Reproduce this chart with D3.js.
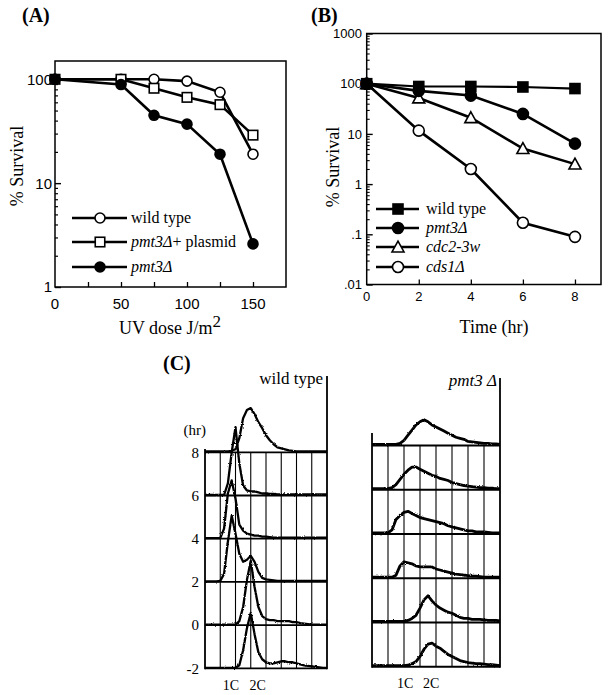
<!DOCTYPE html>
<html>
<head>
<meta charset="utf-8">
<script src="https://cdn.jsdelivr.net/npm/d3@7"></script>
<style>
  body { margin: 0; background: #fff; }
  svg { display: block; }
  .serif { font-family: "Liberation Serif", "DejaVu Serif", serif; }
  .sans { font-family: "Liberation Sans", Arial, sans-serif; }
</style>
</head>
<body>
<div id="fig"></div>
<script>
// ---------- data, panel A (UV dose survival)
var doseA = [0, 50, 75, 100, 125, 150];
var wtA = [100, 100, 100, 96, 75, 19];
var plasmidA = [100, 100, 82, 67, 57, 29];
var pmt3A = [100, 89, 45, 37, 19, 2.6];
var doseTicksA = [0, 50, 100, 150];
var survTicksA = [1, 10, 100];

// ---------- data, panel B (survival over time)
var timeB = [0, 2, 4, 6, 8];
var wtB = [100, 88, 88, 86, 80];
var pmt3B = [100, 72, 58, 25, 6.4];
var cdc2B = [100, 52, 21, 5.1, 2.5];
var cds1B = [100, 11.6, 2.0, 0.17, 0.089];
var survTicksB = [0.01, 0.1, 1, 10, 100, 1000];
var survLabelsB = [".01", ".1", "1", "10", "100", "1000"];

// ---------- data, panel C (FACS profiles, counts per channel bin, 0..8 in steps of .25)
var flowTimes = ["8", "6", "4", "2", "0", "-2"];
var wtFlow = {
  "8":  [1,1,1,1,1,1,1,1.5,3,14,34,42,44,38,30,24,17,12,8,5,4,3,2,1.5,1,1,1,1,1,1,1,1,1],
  "6":  [0.5,0.5,0.5,0.5,0.5,0.5,12,43,68,32,10,5,4,4,3,2,2,1.5,1.5,1,1,1,1,1,1,1,1,1,1,1,1,1,1],
  "4":  [0.5,0.5,0.5,0.5,0.5,10,45,58,40,14,8,5,4,3,3,2,2,1.5,1,1,1,1,1,1,1,1,1,1,1,1,1,1,1],
  "2":  [0.5,0.5,0.5,0.5,1,8,40,66,48,28,20,22,26,20,10,4,2.5,2,1.5,1,1,1,1,1,1,1,1,1,1,1,1,1,1],
  "0":  [0.5,0.5,0.5,0.5,0.5,0.5,0.5,0.5,0.5,4,18,45,64,38,18,9,6,5,5,4,4,4,4,3,3,2,1.5,1,0.5,0.5,0.5,0.5,0.5],
  "-2": [0.5,0.5,0.5,0.5,0.5,0.5,0.5,0.5,0.5,3,18,40,55,34,16,9,6,5,5,6,7,7,6,6,5,4,3,2.5,2,1.5,1,0.5,0.5]
};
var pmtFlow = {
  "8":  [1,1,1,1,1,1,1,2,5,10,15,20,23,25,23,20,18,16,14,12,10,8,7,6,4,3.5,3,2.5,2,2,1.5,1.5,1],
  "6":  [1,1,1,1,1,2,5,10,15,19,22,22,20,18,16,14,13,11,10,9,7,6,5,4,3.5,3,2.5,2,2,1.5,1.5,1,1],
  "4":  [1,1,1,1,1,4,14,18,21,22,20,18,16,15,14,13,12,11,10,8,7,6,5,4,3,3,2,2,2,1.5,1,1,1],
  "2":  [1,1,1,1,1,1,3,12,16,15,14,12,11,11,11,11,9,8,7,6,5,4,3.5,3,2.5,2,2,1.5,1,1,1,1,1],
  "0":  [1,1,1,1,1,1,1,1,1,2,4,7,14,22,26,21,17,14,12,10,9,7,5,4,4,3,3,3,2.5,2,2,2,1.5],
  "-2": [1,1,1,1,1,1,1,1,1,1.5,3,5,10,17,22,23,20,18,15,12,10,8,6,5,4,3.5,3,3,2.5,2,2,1.5,1]
};
var channels = d3.range(0, 8.001, 0.25);

var svg = d3.select("#fig").append("svg")
    .attr("width", 609)
    .attr("height", 695);
svg.append("rect").attr("width", 609).attr("height", 695).attr("fill", "#fff");

// rough look for the scanned flow traces
var filt = svg.append("defs").append("filter")
  .attr("id", "rough").attr("x", "-5%").attr("y", "-20%").attr("width", "110%").attr("height", "140%");
filt.append("feTurbulence").attr("type", "fractalNoise")
  .attr("baseFrequency", "0.9").attr("numOctaves", 1).attr("seed", 3).attr("result", "n");
filt.append("feDisplacementMap").attr("in", "SourceGraphic").attr("in2", "n")
  .attr("scale", 2.5).attr("xChannelSelector", "R").attr("yChannelSelector", "G");

// markers
function drawMarker(g, type, x, y, s) {
  if (type == "circle" || type == "dot") {
    g.append("circle").attr("cx", x).attr("cy", y).attr("r", s / 2)
      .attr("fill", type == "dot" ? "#000" : "#fff")
      .attr("stroke", "#000").attr("stroke-width", 1.6);
  } else if (type == "square" || type == "fsquare") {
    g.append("rect").attr("x", x - s / 2).attr("y", y - s / 2)
      .attr("width", s).attr("height", s)
      .attr("fill", type == "fsquare" ? "#000" : "#fff")
      .attr("stroke", "#000").attr("stroke-width", 1.6);
  } else if (type == "triangle") {
    var h = s * 0.9;
    g.append("path")
      .attr("d", "M" + x + "," + (y - h / 2 - 1) + "L" + (x + s / 2 + 0.5) + "," + (y + h / 2) + "L" + (x - s / 2 - 0.5) + "," + (y + h / 2) + "Z")
      .attr("fill", "#fff").attr("stroke", "#000").attr("stroke-width", 1.6);
  }
}

// ================= Panel A =================
var xA = d3.scaleLinear().domain([0, 175]).range([55, 286]);
var yA = d3.scaleLog().domain([1, 150]).range([287, 61]);

var gA = svg.append("g");
gA.append("rect")
  .attr("x", 55).attr("y", 61)
  .attr("width", 286 - 55).attr("height", 287 - 61)
  .attr("fill", "none").attr("stroke", "#000").attr("stroke-width", 1.5);

// left axis ticks (inside)
gA.append("g")
  .attr("transform", "translate(55,0)")
  .call(d3.axisRight(yA).tickValues(yA.ticks().filter(function(d) { return survTicksA.indexOf(d) < 0; }))
    .tickSize(3).tickFormat(""))
  .call(function(g) { g.select(".domain").remove(); g.selectAll("line").attr("stroke-width", 1.2); });
gA.append("g")
  .attr("transform", "translate(55,0)")
  .call(d3.axisRight(yA).tickValues(survTicksA).tickSize(6).tickFormat(""))
  .call(function(g) { g.select(".domain").remove(); g.selectAll("line").attr("stroke-width", 1.4); });
gA.selectAll(".ylabA")
  .data(survTicksA)
  .enter().append("text")
    .attr("class", "sans")
    .attr("x", 52).attr("y", function(d) { return yA(d); })
    .attr("dy", "0.36em")
    .attr("text-anchor", "end")
    .attr("font-size", 15)
    .text(function(d) { return d; });

// bottom axis ticks (inside)
gA.append("g")
  .attr("transform", "translate(0,287)")
  .call(d3.axisTop(xA).tickValues([25, 50, 75, 100, 125, 150]).tickSize(5).tickFormat(""))
  .call(function(g) { g.select(".domain").remove(); g.selectAll("line").attr("stroke-width", 1.3); });
gA.selectAll(".xlabA")
  .data(doseTicksA)
  .enter().append("text")
    .attr("class", "sans")
    .attr("x", function(d) { return xA(d); }).attr("y", 309)
    .attr("text-anchor", "middle")
    .attr("font-size", 15)
    .text(function(d) { return d; });

var lineA = d3.line()
  .x(function(d, i) { return xA(doseA[i]); })
  .y(function(d) { return yA(d); });

var seriesA = [
  {vals: wtA, m: "circle"},
  {vals: plasmidA, m: "square"},
  {vals: pmt3A, m: "dot"}
];
seriesA.forEach(function(s) {
  gA.append("path").attr("d", lineA(s.vals))
    .attr("fill", "none").attr("stroke", "#000").attr("stroke-width", 2.6);
});
seriesA.forEach(function(s) {
  s.vals.forEach(function(v, i) {
    drawMarker(gA, s.m, xA(doseA[i]), yA(v), s.m == "square" ? 9.5 : 10);
  });
});

// legend A
var legA = [
  {m: "circle", it: "", rest: "wild type", y: 218},
  {m: "square", it: "pmt3\u0394", rest: "+ plasmid", y: 242},
  {m: "dot", it: "pmt3\u0394", rest: "", y: 267}
];
legA.forEach(function(l) {
  gA.append("line").attr("x1", 72).attr("x2", 127).attr("y1", l.y).attr("y2", l.y)
    .attr("stroke", "#000").attr("stroke-width", 2.6);
  drawMarker(gA, l.m, 100, l.y, l.m == "square" ? 9.5 : 10);
  var t = gA.append("text").attr("class", "serif").attr("x", 131).attr("y", l.y + 5)
    .attr("font-size", 16);
  if (l.it) t.append("tspan").attr("font-style", "italic").text(l.it);
  if (l.rest) t.append("tspan").text(l.rest);
});

gA.append("text").attr("class", "serif")
  .attr("x", 170).attr("y", 334)
  .attr("text-anchor", "middle").attr("font-size", 18)
  .text("UV dose J/m")
  .append("tspan").attr("font-size", 17).attr("dy", -7).text("2");

gA.append("text").attr("class", "serif")
  .attr("transform", "translate(23,166) rotate(-90)")
  .attr("text-anchor", "middle").attr("font-size", 18)
  .text("% Survival");

svg.append("text").attr("class", "serif")
  .attr("x", 22).attr("y", 22)
  .attr("font-size", 20).attr("font-weight", "bold")
  .text("(A)");

// ================= Panel B =================
var xB = d3.scaleLinear().domain([0, 9]).range([366.7, 601]);
var yB = d3.scaleLog().domain([0.01, 1000]).range([284.5, 33.5]);

var gB = svg.append("g");
gB.append("rect")
  .attr("x", 366.7).attr("y", 33.5)
  .attr("width", 601 - 366.7).attr("height", 284.5 - 33.5)
  .attr("fill", "none").attr("stroke", "#000").attr("stroke-width", 1.5);

gB.append("g")
  .attr("transform", "translate(366.7,0)")
  .call(d3.axisRight(yB).tickValues(yB.ticks().filter(function(d) {
      return survTicksB.indexOf(d) < 0; }))
    .tickSize(3).tickFormat(""))
  .call(function(g) { g.select(".domain").remove(); g.selectAll("line").attr("stroke-width", 1.1); });
gB.append("g")
  .attr("transform", "translate(366.7,0)")
  .call(d3.axisRight(yB).tickValues(survTicksB).tickSize(6).tickFormat(""))
  .call(function(g) { g.select(".domain").remove(); g.selectAll("line").attr("stroke-width", 1.4); });
gB.selectAll(".ylabB")
  .data(survTicksB)
  .enter().append("text")
    .attr("class", "sans")
    .attr("x", 362).attr("y", function(d) { return yB(d); })
    .attr("dy", "0.36em")
    .attr("text-anchor", "end")
    .attr("font-size", 13)
    .text(function(d, i) { return survLabelsB[i]; });

gB.append("g")
  .attr("transform", "translate(0,284.5)")
  .call(d3.axisTop(xB).tickValues([2, 4, 6, 8]).tickSize(5).tickFormat(""))
  .call(function(g) { g.select(".domain").remove(); g.selectAll("line").attr("stroke-width", 1.3); });
gB.selectAll(".xlabB")
  .data(timeB)
  .enter().append("text")
    .attr("class", "sans")
    .attr("x", function(d) { return xB(d); }).attr("y", 301)
    .attr("text-anchor", "middle")
    .attr("font-size", 13)
    .text(function(d) { return d; });

var lineB = d3.line()
  .x(function(d, i) { return xB(timeB[i]); })
  .y(function(d) { return yB(d); });

var seriesB = [
  {vals: cds1B, m: "circle", w: 2.6},
  {vals: cdc2B, m: "triangle", w: 2.6},
  {vals: pmt3B, m: "dot", w: 2.6},
  {vals: wtB, m: "fsquare", w: 2.2}
];
seriesB.forEach(function(s) {
  gB.append("path").attr("d", lineB(s.vals))
    .attr("fill", "none").attr("stroke", "#000").attr("stroke-width", s.w);
});
seriesB.forEach(function(s) {
  s.vals.forEach(function(v, i) {
    drawMarker(gB, s.m, xB(timeB[i]), yB(v), s.m == "fsquare" ? 10 : 11);
  });
});

var legB = [
  {m: "fsquare", it: false, label: "wild type", y: 209},
  {m: "dot", it: true, label: "pmt3\u0394", y: 228},
  {m: "triangle", it: true, label: "cdc2-3w", y: 247},
  {m: "circle", it: true, label: "cds1\u0394", y: 267}
];
legB.forEach(function(l) {
  gB.append("line").attr("x1", 376).attr("x2", 419).attr("y1", l.y).attr("y2", l.y)
    .attr("stroke", "#000").attr("stroke-width", 2.6);
  drawMarker(gB, l.m, 398, l.y, l.m == "fsquare" ? 10 : 11);
  gB.append("text").attr("class", "serif").attr("x", 426).attr("y", l.y + 5)
    .attr("font-size", 16)
    .attr("font-style", l.it ? "italic" : "normal")
    .text(l.label);
});

gB.append("text").attr("class", "serif")
  .attr("x", 494).attr("y", 333)
  .attr("text-anchor", "middle").attr("font-size", 18)
  .text("Time (hr)");

gB.append("text").attr("class", "serif")
  .attr("transform", "translate(339,167) rotate(-90)")
  .attr("text-anchor", "middle").attr("font-size", 18)
  .text("% Survival");

svg.append("text").attr("class", "serif")
  .attr("x", 311).attr("y", 22)
  .attr("font-size", 20).attr("font-weight", "bold")
  .text("(B)");

// ================= Panel C =================
svg.append("text").attr("class", "serif")
  .attr("x", 163).attr("y", 370)
  .attr("font-size", 20).attr("font-weight", "bold")
  .text("(C)");

function flowPanel(cfg) {
  var g = svg.append("g");
  var x = d3.scaleLinear().domain([0, 8]).range([cfg.x0, cfg.x1]);
  var row = d3.scalePoint().domain(flowTimes).range([cfg.top, cfg.bottom]);
  var h = d3.scaleLinear().domain([0, 43]).range([0, cfg.rowH]);

  // horizontal row lines
  g.selectAll(".hl").data(flowTimes).enter().append("line")
    .attr("x1", cfg.x0).attr("x2", cfg.x1)
    .attr("y1", function(d) { return row(d); }).attr("y2", function(d) { return row(d); })
    .attr("stroke", "#000").attr("stroke-width", 1.8);
  // vertical grid
  g.selectAll(".vl").data(d3.range(1, 8)).enter().append("line")
    .attr("x1", function(d) { return x(d); }).attr("x2", function(d) { return x(d); })
    .attr("y1", cfg.top).attr("y2", cfg.bottom)
    .attr("stroke", "#000").attr("stroke-width", 1.1);
  g.append("line").attr("x1", cfg.x0).attr("x2", cfg.x0)
    .attr("y1", cfg.leftTop).attr("y2", cfg.bottom + 1)
    .attr("stroke", "#000").attr("stroke-width", 1.8);
  g.append("line").attr("x1", cfg.x1).attr("x2", cfg.x1)
    .attr("y1", cfg.rightTop).attr("y2", cfg.bottom + 1)
    .attr("stroke", "#000").attr("stroke-width", 1.8);

  var traces = g.append("g").attr("filter", "url(#rough)");
  flowTimes.forEach(function(t) {
    var base = row(t);
    var ln = d3.line()
      .x(function(d, i) { return x(channels[i]); })
      .y(function(d) { return base - h(d); });
    traces.append("path").attr("d", ln(cfg.data[t]))
      .attr("fill", "none").attr("stroke", "#000")
      .attr("stroke-width", cfg.sw).attr("stroke-linejoin", "round");
  });

  var lab = g.append("text").attr("class", "serif")
    .attr("x", cfg.labX).attr("y", cfg.labY)
    .attr("text-anchor", "end").attr("font-size", 17);
  if (cfg.italic) lab.attr("font-style", "italic");
  lab.text(cfg.label);

  g.append("text").attr("class", "serif")
    .attr("x", x(cfg.c1)).attr("y", cfg.cY)
    .attr("text-anchor", "middle").attr("font-size", 14).text("1C");
  g.append("text").attr("class", "serif")
    .attr("x", x(cfg.c2)).attr("y", cfg.cY)
    .attr("text-anchor", "middle").attr("font-size", 14).text("2C");
  return row;
}

var rowL = flowPanel({
  x0: 205, x1: 327, top: 452.3, bottom: 668.3, rowH: 43.2,
  leftTop: 449, rightTop: 376, data: wtFlow, sw: 2.3,
  label: "wild type", italic: false, labX: 323, labY: 384,
  c1: 1.7, c2: 3.45, cY: 690
});
flowPanel({
  x0: 372, x1: 500, top: 445.5, bottom: 666.75, rowH: 44.25,
  leftTop: 433, rightTop: 378, data: pmtFlow, sw: 2.8,
  label: "pmt3 \u0394", italic: true, labX: 497, labY: 386,
  c1: 2.07, c2: 3.7, cY: 688
});

// time labels
svg.selectAll(".tl").data(flowTimes).enter().append("text")
  .attr("class", "serif")
  .attr("x", 199).attr("y", function(d) { return rowL(d); })
  .attr("dy", "0.35em")
  .attr("text-anchor", "end").attr("font-size", 15)
  .text(function(d) { return d; });
svg.append("text").attr("class", "serif")
  .attr("x", 206).attr("y", 435)
  .attr("text-anchor", "end").attr("font-size", 15)
  .text("(hr)");
</script>
</body>
</html>
